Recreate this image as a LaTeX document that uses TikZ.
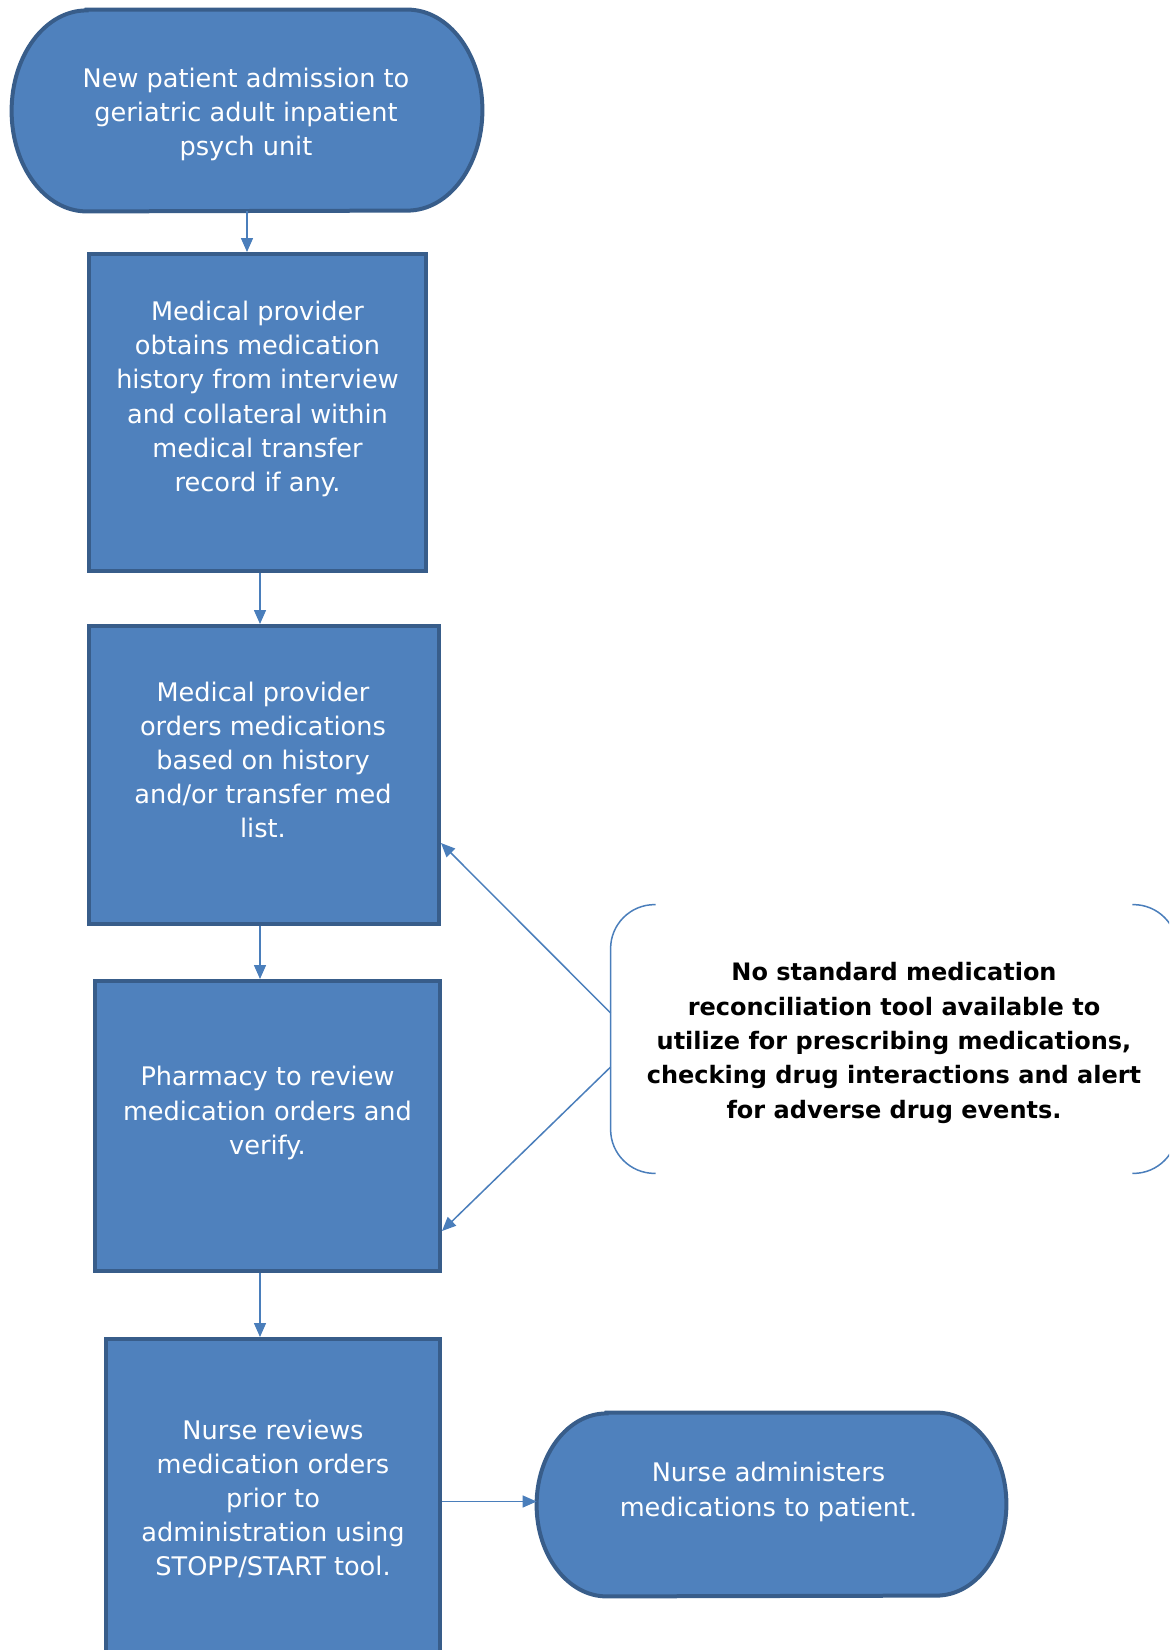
\documentclass[tikz,border=0pt]{standalone}
\usepackage{fontspec}
\setmainfont{DejaVu Sans}
\usepackage{tikz}
\usetikzlibrary{arrows.meta,calc,backgrounds}
\definecolor{boxfill}{HTML}{4F81BD}
\definecolor{boxedge}{HTML}{385D8A}
\definecolor{linkblue}{HTML}{4A7EBB}

\begin{document}
\begin{tikzpicture}[x=0.5pt,y=-0.5pt,>={Triangle[length=7pt,width=6pt]},
  procbox/.style={draw=boxedge,line width=2pt,fill=boxfill,inner sep=0pt},
  termspace/.style={inner sep=0pt},
  termshape/.style={draw=boxedge,line width=2pt,fill=boxfill},
  whitetext/.style={text=white,align=center,inner sep=0pt,font=\fontsize{12.8pt}{17.1pt}\selectfont},
  notetext/.style={text=black,align=center,inner sep=0pt,font=\fontsize{12pt}{17.2pt}\selectfont\bfseries},
  flow/.style={->,draw=linkblue,line width=0.75pt},
  bracket/.style={draw=linkblue,line width=0.75pt,rounded corners=22pt}]
\useasboundingbox (0,0) rectangle (1169,1650);
\clip (0,0) rectangle (1169,1650);

\node[termspace,minimum width=235pt,minimum height=100.5pt] (admit) at (247,110.5) {};
\node[whitetext] (admittxt) at (246,114.5) {New patient admission to\\geriatric adult inpatient\\psych unit};

\node[procbox,minimum width=168.5pt,minimum height=158.5pt] (hist) at (257.5,412.5) {};
\node[whitetext] (histtxt) at ($(hist)+(0,-13.5)$) {Medical provider\\obtains medication\\history from interview\\and collateral within\\medical transfer\\record if any.};

\node[procbox,minimum width=175pt,minimum height=149pt] (orders) at (264,775) {};
\node[whitetext] (orderstxt) at ($(orders)+(-1,-15)$) {Medical provider\\orders medications\\based on history\\and/or transfer med\\list.};

\node[procbox,minimum width=172.5pt,minimum height=145pt] (pharm) at (267.5,1126) {};
\node[whitetext] (pharmtxt) at ($(pharm)+(0,-13)$) {Pharmacy to review\\medication orders and\\verify.};

\node[procbox,minimum width=167pt,minimum height=174pt] (nurse) at (273,1513) {};
\node[whitetext] (nursetxt) at ($(nurse)+(0,-14)$) {Nurse reviews\\medication orders\\prior to\\administration using\\STOPP/START tool.};

\node[termspace,minimum width=234.5pt,minimum height=91.5pt] (give) at (771.5,1504.5) {};
\node[whitetext] (givetxt) at ($(give)+(-3,-12.5)$) {Nurse administers\\medications to patient.};

\node[termspace,minimum width=283pt,minimum height=134pt] (gap) at (894,1039) {};
\node[notetext] (gaptxt) at ($(gap)+(0,4)$) {No standard medication\\reconciliation tool available to\\utilize for prescribing medications,\\checking drug interactions and alert\\for adverse drug events.};

\begin{scope}[on background layer]
\draw[termshape] ($(admit.north west)+(75,0)$) -- ($(admit.north east)+(-75,0)$)
  arc[start angle=-90,end angle=90,x radius=75,y radius=100.5]
  -- ($(admit.south west)+(75,0)$)
  arc[start angle=90,end angle=270,x radius=75,y radius=100.5] -- cycle;
\draw[termshape] ($(give.north west)+(70,0)$) -- ($(give.north east)+(-70,0)$)
  arc[start angle=-90,end angle=90,x radius=70,y radius=91.5]
  -- ($(give.south west)+(70,0)$)
  arc[start angle=90,end angle=270,x radius=70,y radius=91.5] -- cycle;
\end{scope}

\draw[bracket] ($(gap.north west)+(45,0)$) -- (gap.north west) -- (gap.south west) -- ($(gap.south west)+(45,0)$);
\draw[bracket] ($(gap.north east)+(-45,0)$) -- (gap.north east) -- (gap.south east) -- ($(gap.south east)+(-45,0)$);

\coordinate (spine) at ($(hist.south)+(2.5,0)$);
\draw[flow] (admit.south) -- (admit.south |- hist.north);
\draw[flow] (spine) -- (spine |- orders.north);
\draw[flow] (orders.south -| spine) -- (spine |- pharm.north);
\draw[flow] (pharm.south -| spine) -- (spine |- nurse.north);
\draw[flow] ($(give.west -| nurse.east)+(0,-3)$) -- ($(give.west)+(0,-3)$);
\draw[flow] ($(gap.west)+(0,-26)$) -- ($(orders.east)+(0,68)$);
\draw[flow] ($(gap.west)+(0,28)$) -- ($(pharm.east)+(0,105)$);
\end{tikzpicture}
\end{document}
